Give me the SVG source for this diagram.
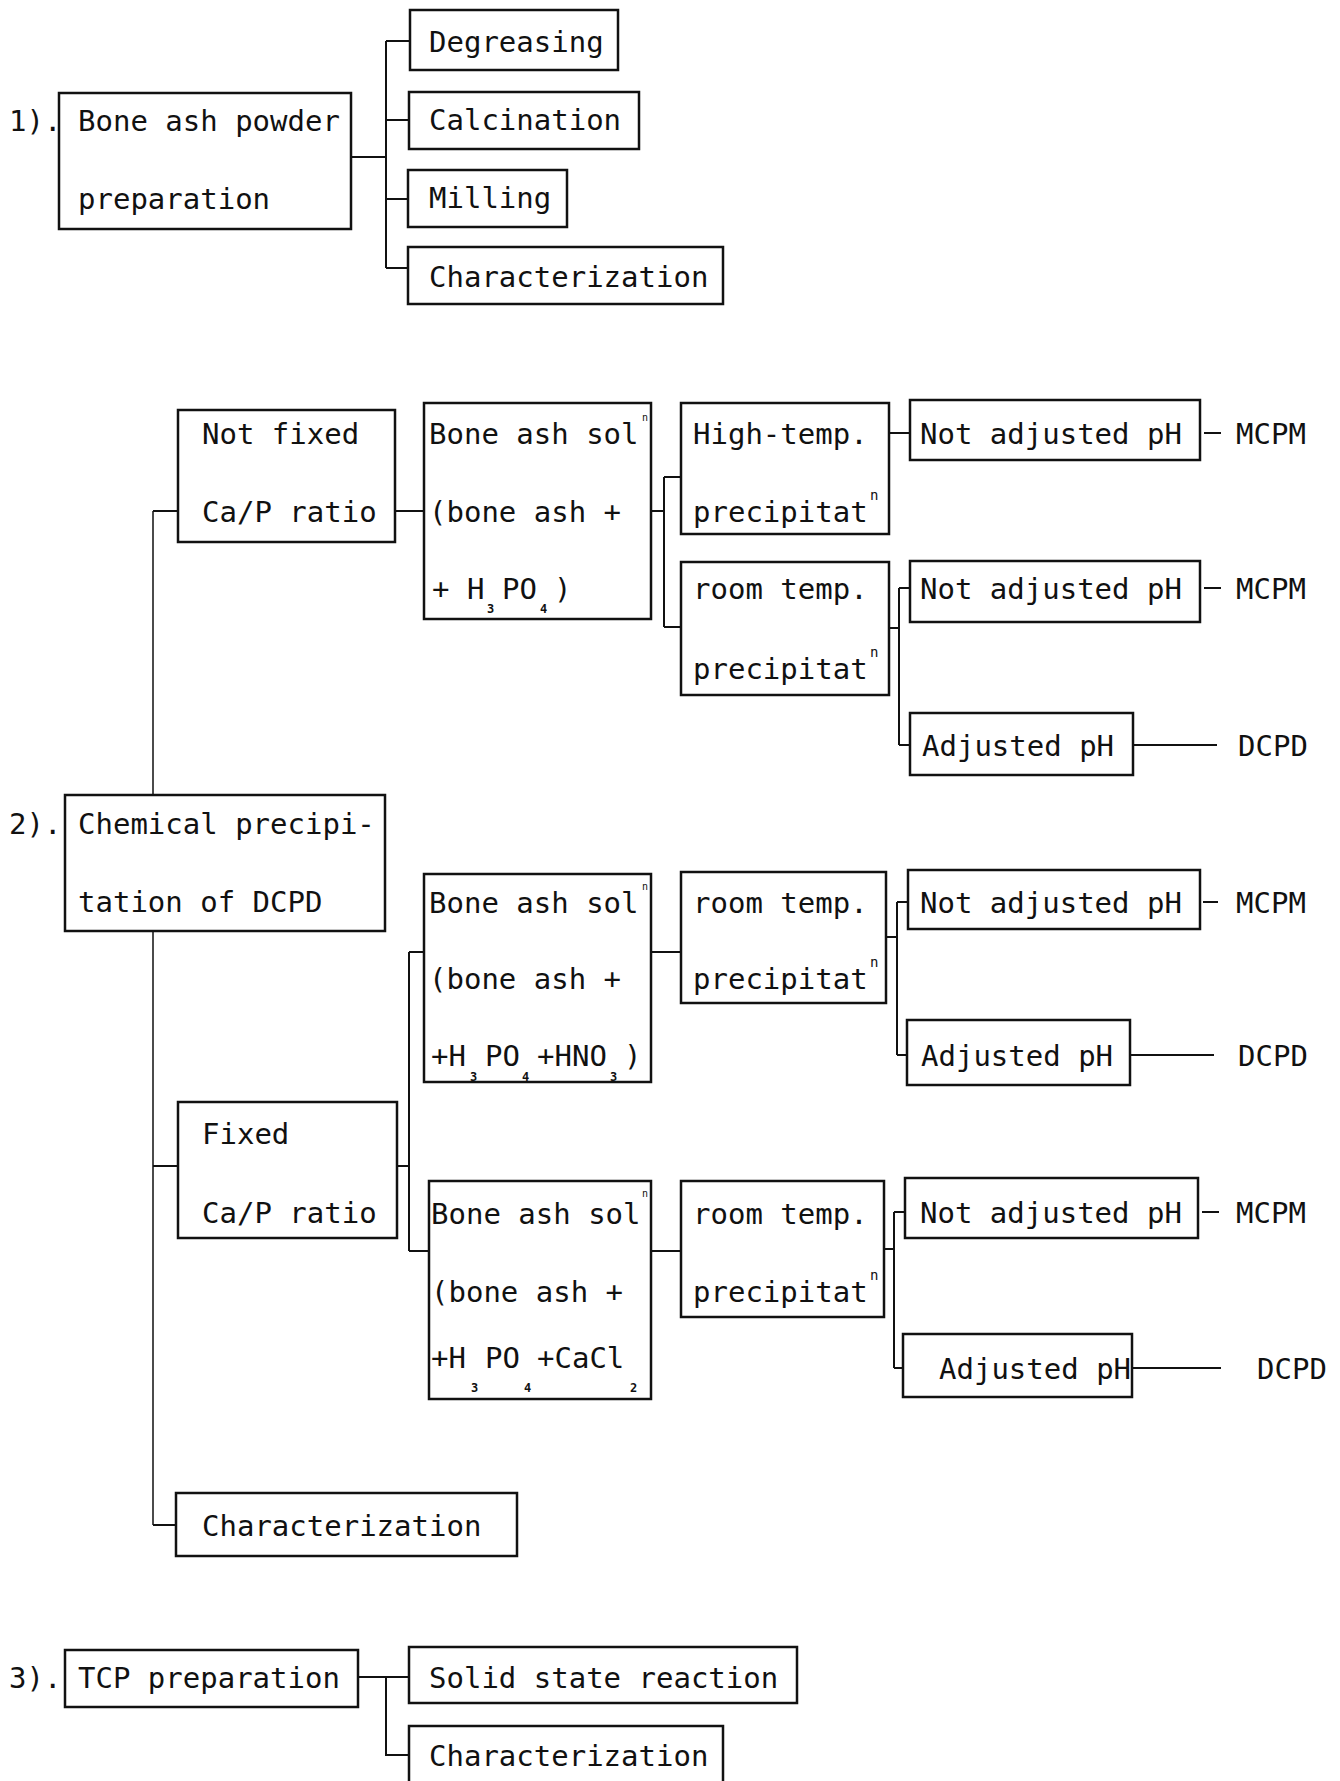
<svg xmlns="http://www.w3.org/2000/svg" width="1340" height="1781" viewBox="0 0 1340 1781">
<style>
  .box { fill: #ffffff; stroke: #111; stroke-width: 2.5; }
  .t { font-family: "DejaVu Sans Mono", "Liberation Mono", monospace; font-size: 29px; fill: #111; }
  .sub { font-size: 12px; font-weight: bold; }
  .sup { font-size: 14px; }
  .sup2 { font-size: 10px; }
  .c { fill: none; stroke: #111; stroke-width: 2; }
  .thin { fill: none; stroke: #111; stroke-width: 1.5; }
</style>
<rect width="1340" height="1781" fill="#ffffff"/>

<g id="connectors">
  <!-- section 1 -->
  <path class="c" d="M351 157 H386 M386 41 V268 M386 41 H410 M386 120 H409 M386 199 H408 M386 268 H408"/>
  <!-- section 2 left spine -->
  <path class="thin" d="M153 511 V795 M153 931 V1525"/>
  <path class="c" d="M153 511 H178 M153 1166 H178 M153 1525 H176"/>
  <!-- not fixed branch -->
  <path class="c" d="M395 511 H424"/>
  <path class="c" d="M651 511 H664 M664 477 V627 M664 477 H681 M664 627 H681"/>
  <path class="c" d="M889 433 H910"/>
  <path class="c" d="M889 628 H899 M899 588 V745 M899 588 H910 M899 745 H910"/>
  <path class="c" d="M1204 433 H1221 M1204 588 H1221 M1133 745 H1217"/>
  <!-- fixed branch -->
  <path class="c" d="M397 1166 H409 M409 952 V1251 M409 952 H424 M409 1251 H429"/>
  <path class="c" d="M651 952 H681 M651 1251 H681"/>
  <path class="c" d="M886 937 H897 M897 902 V1055 M897 902 H908 M897 1055 H907"/>
  <path class="c" d="M884 1249 H894 M894 1212 V1368 M894 1212 H905 M894 1368 H903"/>
  <path class="c" d="M1203 902 H1218 M1130 1055 H1214 M1202 1212 H1219 M1132 1368 H1221"/>
  <!-- section 3 -->
  <path class="c" d="M358 1677 H409 M386 1677 V1755 H409"/>
</g>

<!-- section 1 -->
<text class="t" x="9" y="131">1).</text>
<g id="n-bone-ash-powder">
  <rect class="box" x="59" y="93" width="292" height="136"/>
  <text class="t" x="78" y="131">Bone ash powder</text>
  <text class="t" x="78" y="209">preparation</text>
</g>
<g id="n-degreasing">
  <rect class="box" x="410" y="10" width="208" height="60"/>
  <text class="t" x="429" y="52">Degreasing</text>
</g>
<g id="n-calcination">
  <rect class="box" x="409" y="92" width="230" height="57"/>
  <text class="t" x="429" y="130">Calcination</text>
</g>
<g id="n-milling">
  <rect class="box" x="408" y="170" width="159" height="57"/>
  <text class="t" x="429" y="208">Milling</text>
</g>
<g id="n-char1">
  <rect class="box" x="408" y="247" width="315" height="57"/>
  <text class="t" x="429" y="287">Characterization</text>
</g>

<!-- section 2 -->
<text class="t" x="9" y="834">2).</text>
<g id="n-chem">
  <rect class="box" x="65" y="795" width="320" height="136"/>
  <text class="t" x="78" y="834">Chemical precipi-</text>
  <text class="t" x="78" y="912">tation of DCPD</text>
</g>
<g id="n-notfixed">
  <rect class="box" x="178" y="410" width="217" height="132"/>
  <text class="t" x="202" y="444">Not fixed</text>
  <text class="t" x="202" y="522">Ca/P ratio</text>
</g>
<g id="n-sol1">
  <rect class="box" x="424" y="403" width="227" height="216"/>
  <text class="t" x="429" y="444">Bone ash sol<tspan class="sup2" x="642" y="421">n</tspan></text>
  <text class="t" x="429" y="522">(bone ash +</text>
  <text class="t" x="432" y="599">+ H<tspan class="sub" x="487" y="613">3</tspan><tspan x="502" y="599">PO</tspan><tspan class="sub" x="540" y="613">4</tspan><tspan x="554" y="599">)</tspan></text>
</g>
<g id="n-hightemp">
  <rect class="box" x="681" y="403" width="208" height="131"/>
  <text class="t" x="693" y="444">High-temp.</text>
  <text class="t" x="693" y="522">precipitat<tspan class="sup" x="870" y="500">n</tspan></text>
</g>
<g id="n-roomtemp1">
  <rect class="box" x="681" y="562" width="208" height="133"/>
  <text class="t" x="693" y="599">room temp.</text>
  <text class="t" x="693" y="679">precipitat<tspan class="sup" x="870" y="657">n</tspan></text>
</g>
<g id="n-notadj1">
  <rect class="box" x="910" y="400" width="290" height="60"/>
  <text class="t" x="920" y="444">Not adjusted pH</text>
</g>
<text class="t" x="1236" y="444">MCPM</text>
<g id="n-notadj2">
  <rect class="box" x="910" y="561" width="290" height="61"/>
  <text class="t" x="920" y="599">Not adjusted pH</text>
</g>
<text class="t" x="1236" y="599">MCPM</text>
<g id="n-adj1">
  <rect class="box" x="910" y="713" width="223" height="62"/>
  <text class="t" x="922" y="756">Adjusted pH</text>
</g>
<text class="t" x="1238" y="756">DCPD</text>

<g id="n-fixed">
  <rect class="box" x="178" y="1102" width="219" height="136"/>
  <text class="t" x="202" y="1144">Fixed</text>
  <text class="t" x="202" y="1223">Ca/P ratio</text>
</g>
<g id="n-sol2">
  <rect class="box" x="424" y="874" width="227" height="208"/>
  <text class="t" x="429" y="913">Bone ash sol<tspan class="sup2" x="642" y="890">n</tspan></text>
  <text class="t" x="429" y="989">(bone ash +</text>
  <text class="t" x="431" y="1066">+H<tspan class="sub" x="470" y="1081">3</tspan><tspan x="485" y="1066">PO</tspan><tspan class="sub" x="522" y="1081">4</tspan><tspan x="537" y="1066">+HNO</tspan><tspan class="sub" x="610" y="1081">3</tspan><tspan x="624" y="1066">)</tspan></text>
</g>
<g id="n-roomtemp2">
  <rect class="box" x="681" y="872" width="205" height="131"/>
  <text class="t" x="693" y="913">room temp.</text>
  <text class="t" x="693" y="989">precipitat<tspan class="sup" x="870" y="967">n</tspan></text>
</g>
<g id="n-notadj3">
  <rect class="box" x="908" y="870" width="292" height="59"/>
  <text class="t" x="920" y="913">Not adjusted pH</text>
</g>
<text class="t" x="1236" y="913">MCPM</text>
<g id="n-adj3">
  <rect class="box" x="907" y="1020" width="223" height="65"/>
  <text class="t" x="921" y="1066">Adjusted pH</text>
</g>
<text class="t" x="1238" y="1066">DCPD</text>

<g id="n-sol3">
  <rect class="box" x="429" y="1181" width="222" height="218"/>
  <text class="t" x="431" y="1224">Bone ash sol<tspan class="sup2" x="642" y="1197">n</tspan></text>
  <text class="t" x="431" y="1302">(bone ash +</text>
  <text class="t" x="431" y="1368">+H<tspan class="sub" x="471" y="1392">3</tspan><tspan x="485" y="1368">PO</tspan><tspan class="sub" x="524" y="1392">4</tspan><tspan x="537" y="1368">+CaCl</tspan><tspan class="sub" x="630" y="1392">2</tspan></text>
</g>
<g id="n-roomtemp3">
  <rect class="box" x="681" y="1181" width="203" height="136"/>
  <text class="t" x="693" y="1224">room temp.</text>
  <text class="t" x="693" y="1302">precipitat<tspan class="sup" x="870" y="1280">n</tspan></text>
</g>
<g id="n-notadj4">
  <rect class="box" x="905" y="1178" width="293" height="60"/>
  <text class="t" x="920" y="1223">Not adjusted pH</text>
</g>
<text class="t" x="1236" y="1223">MCPM</text>
<g id="n-adj4">
  <rect class="box" x="903" y="1334" width="229" height="63"/>
  <text class="t" x="939" y="1379">Adjusted pH</text>
</g>
<text class="t" x="1257" y="1379">DCPD</text>

<g id="n-char2">
  <rect class="box" x="176" y="1493" width="341" height="63"/>
  <text class="t" x="202" y="1536">Characterization</text>
</g>

<!-- section 3 -->
<text class="t" x="9" y="1688">3).</text>
<g id="n-tcp">
  <rect class="box" x="65" y="1650" width="293" height="57"/>
  <text class="t" x="78" y="1688">TCP preparation</text>
</g>
<g id="n-solid">
  <rect class="box" x="409" y="1647" width="388" height="56"/>
  <text class="t" x="429" y="1688">Solid state reaction</text>
</g>
<g id="n-char3">
  <rect class="box" x="409" y="1726" width="314" height="70"/>
  <text class="t" x="429" y="1766">Characterization</text>
</g>
</svg>
